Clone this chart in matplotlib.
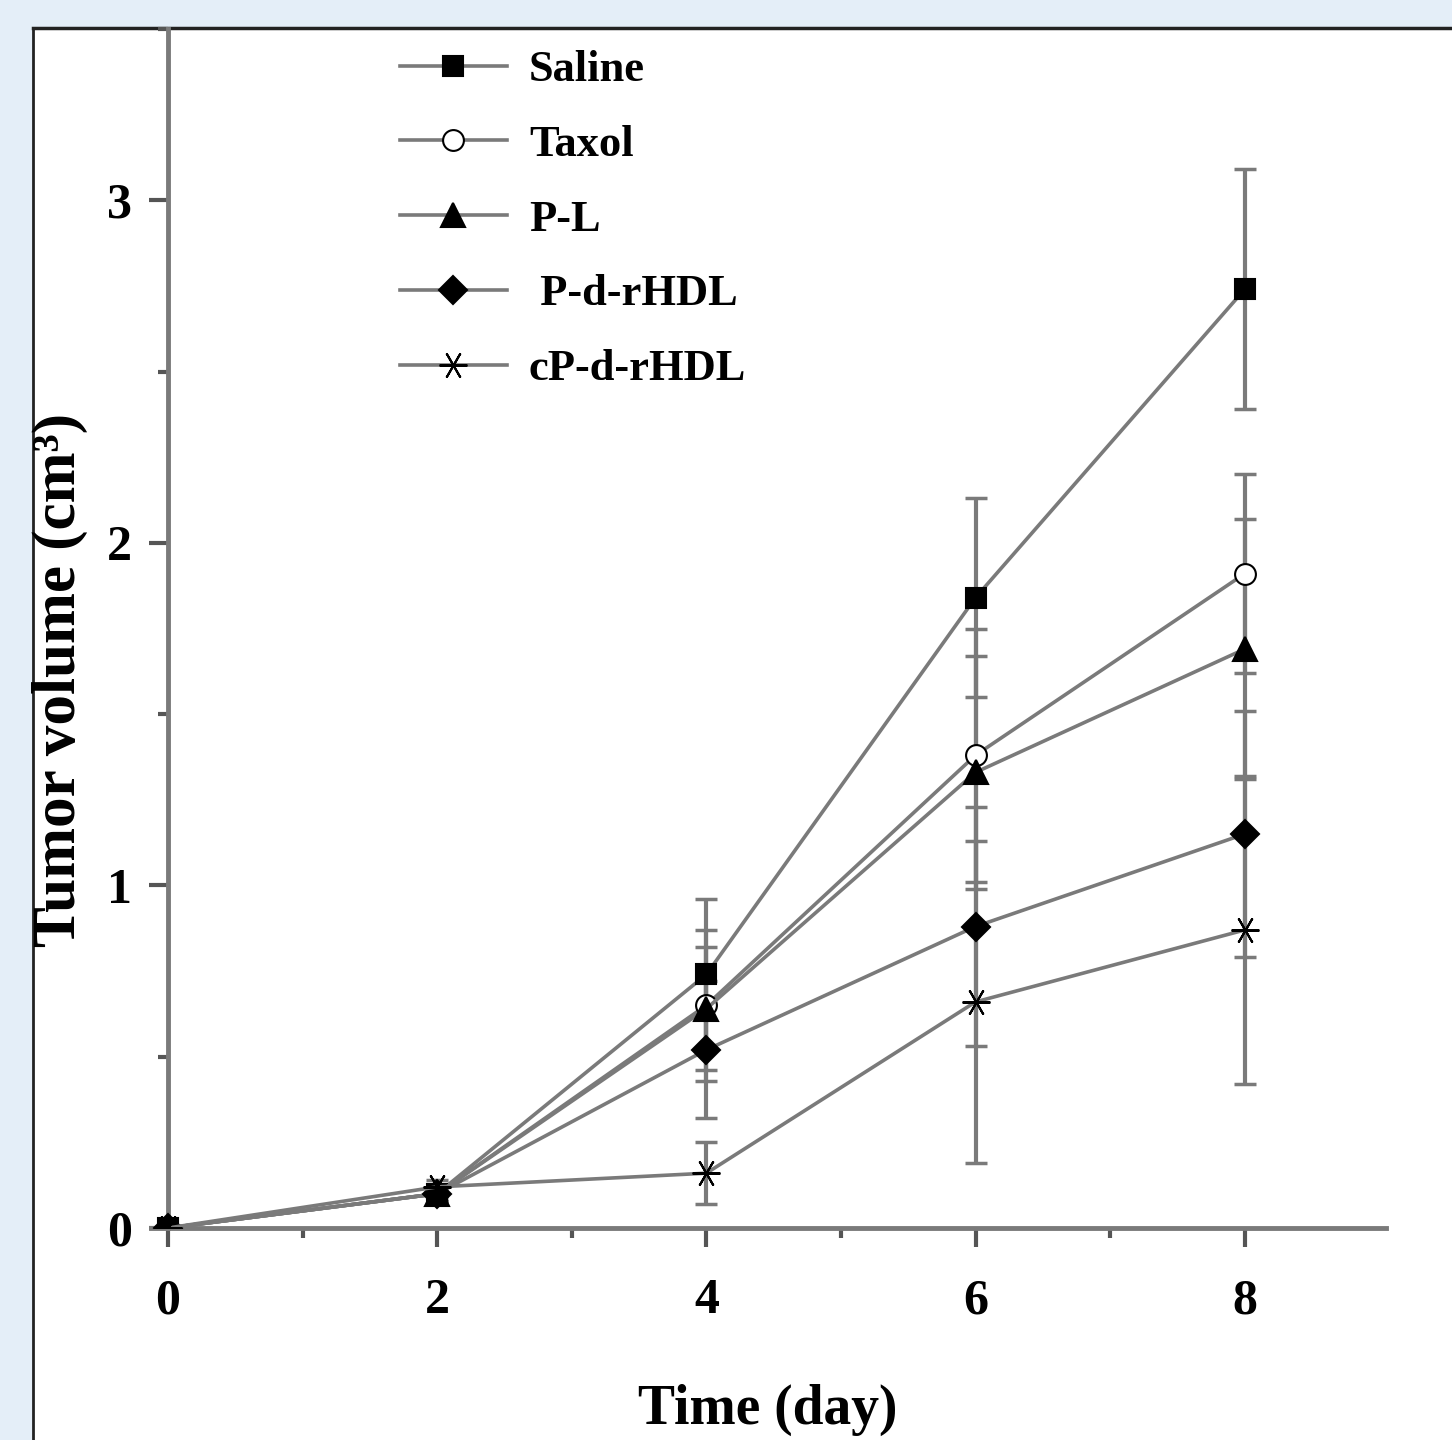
import matplotlib
matplotlib.use("Agg")
import matplotlib.pyplot as plt
from matplotlib.patches import Rectangle

# data
days = [0, 2, 4, 6, 8]
labels = ["Saline", "Taxol", "P-L", " P-d-rHDL", "cP-d-rHDL"]
saline = [0.0, 0.10, 0.74, 1.84, 2.74]
saline_err = [0.0, 0.02, 0.22, 0.29, 0.35]
taxol = [0.0, 0.10, 0.65, 1.38, 1.91]
taxol_err = [0.0, 0.02, 0.22, 0.37, 0.29]
pl = [0.0, 0.10, 0.64, 1.33, 1.69]
pl_err = [0.0, 0.02, 0.18, 0.34, 0.38]
pdrhdl = [0.0, 0.10, 0.52, 0.88, 1.15]
pdrhdl_err = [0.0, 0.02, 0.20, 0.35, 0.36]
cpdrhdl = [0.0, 0.12, 0.16, 0.66, 0.87]
cpdrhdl_err = [0.0, 0.02, 0.09, 0.47, 0.45]

series = [saline, taxol, pl, pdrhdl, cpdrhdl]
errors = [saline_err, taxol_err, pl_err, pdrhdl_err, cpdrhdl_err]
markers = ["s", "o", "^", "D", (6, 2, 90)]
msizes = [15, 15, 17, 14, 20]
faces = ["black", "white", "black", "black", "black"]

plt.rcParams['font.family'] = ['Liberation Serif', 'DejaVu Serif']
plt.rcParams['font.weight'] = 'bold'

W, H = 1452, 1440
fig = plt.figure(figsize=(W / 100, H / 100), dpi=100)
fig.patch.set_facecolor('#e4eef8')

# white panel with a black border on top and left
panel = Rectangle((33 / W, 0), 1 - 33 / W, 1 - 28 / H, transform=fig.transFigure,
                  facecolor='white', edgecolor='none', zorder=-5)
fig.patches.append(panel)
fig.add_artist(plt.Line2D([33 / W, 33 / W], [0, 1 - 28 / H], transform=fig.transFigure,
                          color='#222222', lw=2, zorder=-4))
fig.add_artist(plt.Line2D([33 / W, 1], [1 - 28 / H, 1 - 28 / H], transform=fig.transFigure,
                          color='#222222', lw=2.5, zorder=-4))

ax = fig.add_axes([150.5 / W, (H - 1228) / H, (1386 - 150.5) / W, 1199 / H])
ax.set_facecolor('none')
ax.set_zorder(1)

gray = '#7a7a7a'
handles = []
for y, e, m, ms, fc, lab in zip(series, errors, markers, msizes, faces, labels):
    eb = ax.errorbar(days, y, yerr=e, fmt='none', ecolor=gray, elinewidth=3,
                     capsize=8, capthick=2.5, zorder=2)
    for c in eb.lines[1]:
        c.set_color('#333333')
    h, = ax.plot(days, y, color=gray, lw=2.6, marker=m, markersize=ms,
                 markerfacecolor=fc, markeredgecolor='black', markeredgewidth=1.5,
                 label=lab, zorder=3)
    handles.append(h)

ax.set_xlim(-0.13, 9.05)
ax.set_ylim(0, 3.5)

for s in ['top', 'right']:
    ax.spines[s].set_visible(False)
ax.spines['left'].set_position(('data', 0))
for s in ['left', 'bottom']:
    ax.spines[s].set_color(gray)
    ax.spines[s].set_linewidth(3.5)

ax.set_xticks([0, 2, 4, 6, 8])
ax.set_xticks([1, 3, 5, 7], minor=True)
ax.set_yticks([0, 1, 2, 3])
ax.set_yticks([0.5, 1.5, 2.5, 3.5], minor=True)
ax.tick_params(which='major', direction='out', length=14, width=3, color='#555555',
               labelsize=36, pad=12)
ax.tick_params(axis='x', which='major', pad=22)
ax.tick_params(which='minor', direction='out', length=7, width=3, color='#555555')

ax.set_xlabel("Time (day)", fontsize=40, fontweight='bold', labelpad=43)
ax.set_ylabel("Tumor volume (cm³)", fontsize=44, fontweight='bold', va='center')
ax.yaxis.set_label_coords((60 - 150.5) / (1386 - 150.5), (1228 - 680) / 1199)

leg = ax.legend(handles=handles, loc='upper left',
                bbox_to_anchor=(400 / W, 1 - 50 / H), bbox_transform=fig.transFigure,
                frameon=False, fontsize=32, handlelength=2.4, handletextpad=0.5,
                labelspacing=0.78, borderpad=0, borderaxespad=0)

fig.savefig("out.png", dpi=100, facecolor=fig.get_facecolor())
